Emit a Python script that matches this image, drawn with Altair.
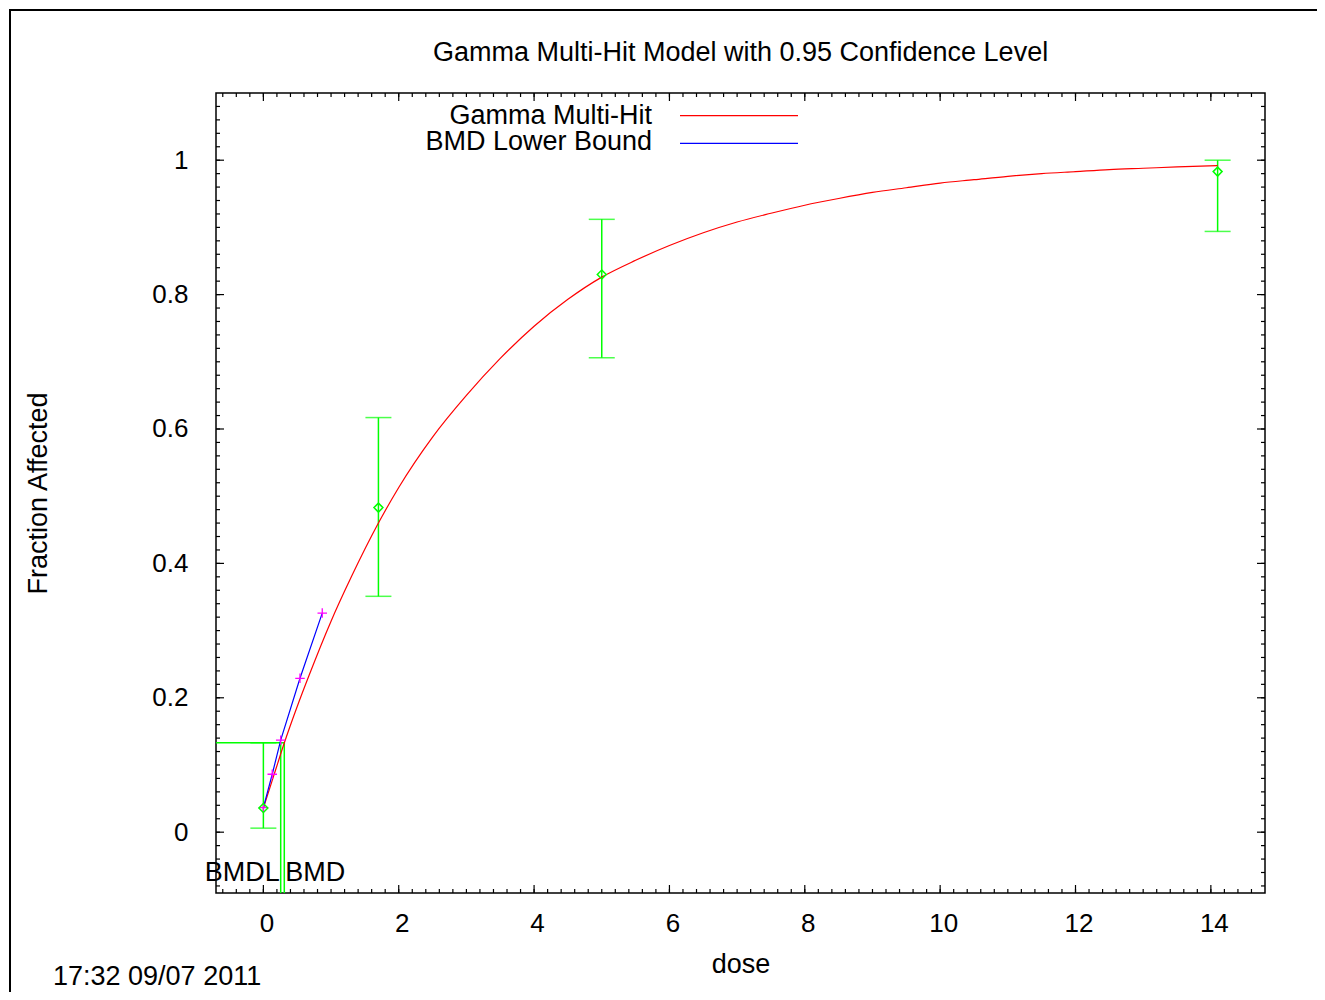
import altair as alt
import pandas as pd

FONT = "Liberation Sans"

# ---- observed data (dose, fraction affected, 95% CI) ----
dose = [0.0, 1.7, 5.0, 14.1]
frac_obs = [0.036, 0.483, 0.830, 0.983]
ci_lo = [0.006, 0.351, 0.706, 0.894]
ci_hi = [0.133, 0.617, 0.912, 1.0]

# ---- fitted Gamma Multi-Hit curve ----
curve_dose = [0.0, 0.15, 0.31, 0.5, 0.67, 1.0, 1.3, 1.7, 2.0, 2.5, 3.0, 3.5, 4.0, 4.5,
              5.0, 5.5, 6.0, 6.5, 7.0, 7.5, 8.0, 8.5, 9.0, 9.5, 10.0, 10.5, 11.0,
              11.5, 12.0, 12.5, 13.0, 13.5, 14.1]
curve_frac = [0.036, 0.083, 0.133, 0.187, 0.232, 0.314, 0.380, 0.460, 0.513, 0.588,
              0.650, 0.705, 0.753, 0.793, 0.826, 0.851, 0.873, 0.892, 0.908, 0.921,
              0.933, 0.943, 0.952, 0.959, 0.966, 0.971, 0.976, 0.980, 0.983, 0.986,
              0.988, 0.990, 0.992]

# ---- BMD lower bound line ----
bmdl_dose = [0.0, 0.131, 0.256, 0.541, 0.870]
bmdl_frac = [0.0365, 0.0862, 0.137, 0.229, 0.326]

bmr_level = 0.1332
bmdl_value = 0.256
bmd_value = 0.309

x_domain = [-0.7, 14.8]
y_domain = [-0.0905, 1.1]
x_major = [0, 2, 4, 6, 8, 10, 12, 14]
y_major = [0, 0.2, 0.4, 0.6, 0.8, 1.0]
x_minor = [round(-0.6 + 0.2 * i, 2) for i in range(77)]
y_minor = [round(-0.08 + 0.02 * i, 2) for i in range(59)]

legend_labels = ["Gamma Multi-Hit", "BMD Lower Bound"]
title_text = "Gamma Multi-Hit Model with 0.95 Confidence Level"
x_title = "dose"
y_title = "Fraction Affected"
stamp_text = "17:32 09/07 2011"
bmd_labels = ["BMDL", "BMD"]

W, H = 1049, 800
GREEN = "#00ff00"

xs = alt.Scale(domain=x_domain, nice=False, zero=False)
ys = alt.Scale(domain=y_domain, nice=False, zero=False)

obs = pd.DataFrame({"dose": dose, "frac": frac_obs, "lo": ci_lo, "hi": ci_hi})
curve = pd.DataFrame({"dose": curve_dose, "frac": curve_frac})
bl = pd.DataFrame({"dose": bmdl_dose, "frac": bmdl_frac})

x_axis = alt.Axis(values=x_major, format="~g", ticks=False, tickSize=0, domain=False,
                  grid=False, labelFontSize=26, labelFont=FONT, labelColor="black",
                  labelBaseline="alphabetic", labelPadding=38, labelOffset=3,
                  labelFlush=False, labelOverlap=False,
                  title=x_title, titleFont=FONT, titleFontSize=27,
                  titleFontWeight="normal", titleColor="black",
                  titleX=W / 2, titleY=79, titleBaseline="alphabetic", titleAlign="center")
y_axis = alt.Axis(values=y_major, format="~g", ticks=False, tickSize=0, domain=False,
                  grid=False, labelFontSize=26, labelFont=FONT, labelColor="black",
                  labelPadding=28, labelFlush=False, labelOverlap=False,
                  title=y_title, titleFont=FONT, titleFontSize=27,
                  titleFontWeight="normal", titleColor="black",
                  titleX=-170, titleY=H / 2, titleAngle=270,
                  titleBaseline="alphabetic", titleAlign="center")


def X(field):
    return alt.X(field, type="quantitative", scale=xs, axis=x_axis)


def Y(field):
    return alt.Y(field, type="quantitative", scale=ys, axis=y_axis)


layers = []

# BMR / BMD / BMDL green lines
bmr_df = pd.DataFrame({"x0": [x_domain[0]], "x1": [bmd_value], "y": [bmr_level]})
layers.append(
    alt.Chart(bmr_df).mark_rule(color=GREEN, strokeWidth=1.5)
    .encode(x=X("x0"), x2="x1", y=Y("y"))
)
vert_df = pd.DataFrame({"x": [bmdl_value, bmd_value], "y0": [bmr_level, bmr_level],
                        "y1": [y_domain[0], y_domain[0]]})
layers.append(
    alt.Chart(vert_df).mark_rule(color=GREEN, strokeWidth=1.5)
    .encode(x=X("x"), y=Y("y0"), y2="y1")
)

# error bars
layers.append(
    alt.Chart(obs).mark_rule(color=GREEN, strokeWidth=1.5)
    .encode(x=X("dose"), y=Y("lo"), y2="hi")
)
for col in ["lo", "hi"]:
    layers.append(
        alt.Chart(obs).mark_tick(color=GREEN, orient="horizontal", size=26, thickness=1.5)
        .encode(x=X("dose"), y=Y(col))
    )

# fitted curve
layers.append(
    alt.Chart(curve).mark_line(color="#ff0000", strokeWidth=1.2, interpolate="monotone")
    .encode(x=X("dose"), y=Y("frac"))
)

# BMD lower bound line and crosses
layers.append(
    alt.Chart(bl).mark_line(color="#0000ff", strokeWidth=1.2)
    .encode(x=X("dose"), y=Y("frac"))
)
layers.append(
    alt.Chart(bl).mark_point(shape="M-1,0L1,0M0,-1L0,1", filled=False, size=90,
                             color="#ff00ff", strokeWidth=1.3, opacity=1)
    .encode(x=X("dose"), y=Y("frac"))
)

# observed diamonds
layers.append(
    alt.Chart(obs).mark_point(shape="diamond", filled=False, size=80,
                              color=GREEN, strokeWidth=1.5, opacity=1)
    .encode(x=X("dose"), y=Y("frac"))
)

# BMDL / BMD labels
layers.append(
    alt.Chart(pd.DataFrame({"x": [bmdl_value], "t": [bmd_labels[0]]}))
    .mark_text(align="right", baseline="alphabetic", fontSize=27, font=FONT,
               color="black", dx=-1)
    .encode(x=X("x"), y=alt.value(787.5), text="t:N")
)
layers.append(
    alt.Chart(pd.DataFrame({"x": [bmd_value], "t": [bmd_labels[1]]}))
    .mark_text(align="left", baseline="alphabetic", fontSize=27, font=FONT,
               color="black", dx=1)
    .encode(x=X("x"), y=alt.value(787.5), text="t:N")
)


# inward tick marks on all four sides
def xticks(vals, length):
    d = pd.DataFrame({"v": vals})
    bottom = alt.Chart(d).mark_rule(color="black", strokeWidth=1.2).encode(
        x=X("v"), y=alt.value(H), y2=alt.value(H - length))
    top = alt.Chart(d).mark_rule(color="black", strokeWidth=1.2).encode(
        x=X("v"), y=alt.value(0), y2=alt.value(length))
    return [bottom, top]


def yticks(vals, length):
    d = pd.DataFrame({"v": vals})
    left = alt.Chart(d).mark_rule(color="black", strokeWidth=1.2).encode(
        y=Y("v"), x=alt.value(0), x2=alt.value(length))
    right = alt.Chart(d).mark_rule(color="black", strokeWidth=1.2).encode(
        y=Y("v"), x=alt.value(W), x2=alt.value(W - length))
    return [left, right]


layers += xticks(x_minor, 4) + xticks(x_major, 8) + yticks(y_minor, 4) + yticks(y_major, 8)


def text_layer(text, x, y, align="left", size=27):
    return alt.Chart(pd.DataFrame({"t": [text]})).mark_text(
        align=align, baseline="alphabetic", fontSize=size, font=FONT, color="black"
    ).encode(x=alt.value(x), y=alt.value(y), text="t:N")


# title, legend, timestamp
layers.append(text_layer(title_text, W / 2, -32, align="center"))
layers.append(text_layer(legend_labels[0], 436, 30.5, align="right"))
layers.append(text_layer(legend_labels[1], 436, 57, align="right"))
layers.append(text_layer(stamp_text, -163, 892, align="left"))

for yy, col in [(22.7, "#ff0000"), (50.3, "#0000ff")]:
    layers.append(
        alt.Chart(pd.DataFrame({"k": [0]})).mark_rule(color=col, strokeWidth=1.3)
        .encode(x=alt.value(464), x2=alt.value(582), y=alt.value(yy))
    )

# outer page frame (left and top edges)
frame_df = pd.DataFrame({"k": [0]})
layers.append(alt.Chart(frame_df).mark_rule(color="black", strokeWidth=2).encode(
    x=alt.value(-206), y=alt.value(-83), y2=alt.value(930)))
layers.append(alt.Chart(frame_df).mark_rule(color="black", strokeWidth=2).encode(
    y=alt.value(-83), x=alt.value(-207), x2=alt.value(1130)))

chart = (
    alt.layer(*layers)
    .properties(width=W, height=H,
                padding={"left": 208, "top": 85, "right": 52, "bottom": 99},
                autosize=alt.AutoSizeParams(type="none"),
                background="white")
    .configure_view(stroke="black", strokeWidth=1.5)
)

chart.save("out.html", embed_options={"renderer": "svg", "actions": False})
